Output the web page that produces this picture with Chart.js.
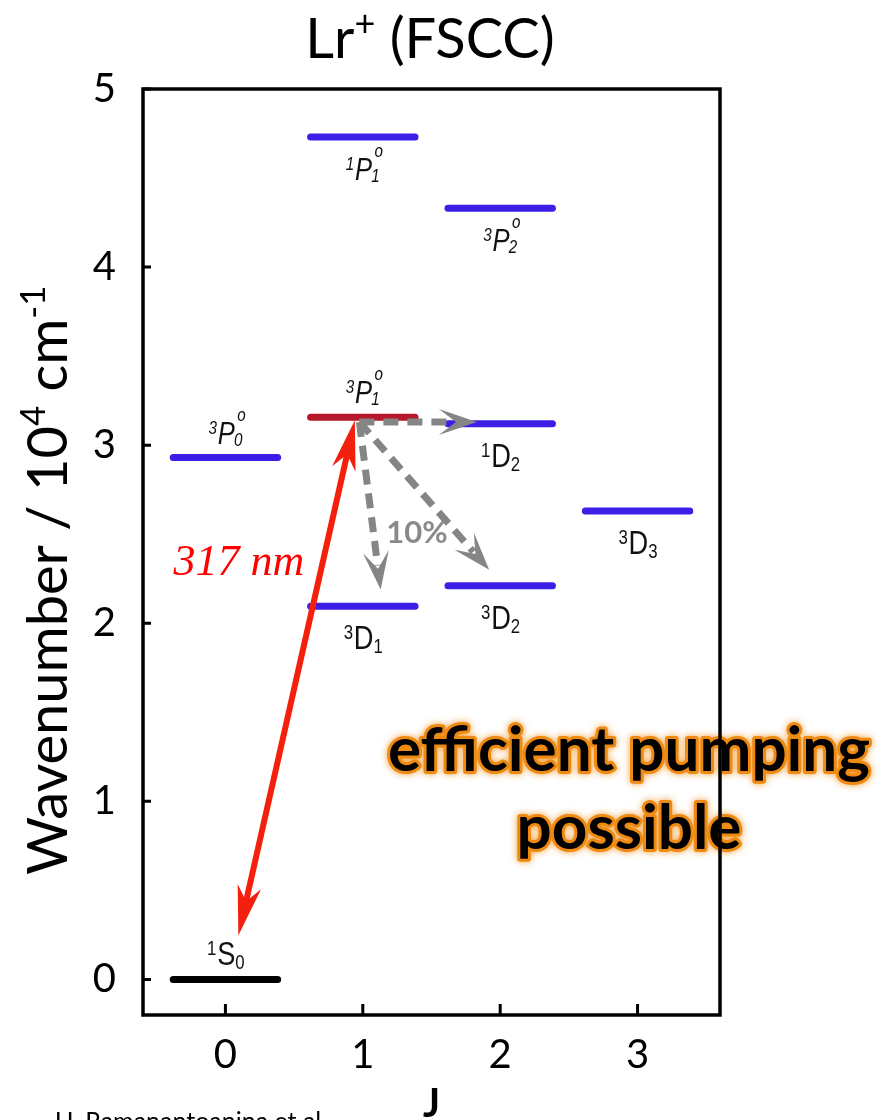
<!DOCTYPE html>
<html>
<head>
<meta charset="utf-8">
<script src="https://cdn.jsdelivr.net/npm/chart.js@4.4.1/dist/chart.umd.min.js"></script>
<style>
  html, body { margin: 0; padding: 0; background: #fff; }
  canvas { display: block; }
</style>
</head>
<body>
<canvas id="myChart" width="892" height="1120"></canvas>
<script>
// Lr+ levels (FSCC), wavenumber in 10^4 cm^-1
const levelJ      = [0, 0, 1, 1, 1, 2, 2, 2, 3];
const levelEnergy = [0, 2.93, 3.157, 4.73, 2.095, 4.33, 3.12, 2.21, 2.63];
const levelKind   = ['ground', 'odd', 'pumped', 'odd', 'even', 'odd', 'even', 'even', 'even'];
const termPre  = ['1', '3', '3', '1', '3', '3', '1', '3', '3'];
const termMain = ['S', 'P', 'P', 'P', 'D', 'P', 'D', 'D', 'D'];
const termSup  = ['', 'o', 'o', 'o', '', 'o', '', '', ''];
const termSub  = ['0', '0', '1', '1', '1', '2', '2', '2', '3'];

const xTicks = [0, 1, 2, 3];
const yTicks = [0, 1, 2, 3, 4, 5];

// 317 nm pumping arrow (J, energy) of both ends
const pumpJ = [0.094, 0.942];
const pumpE = [0.247, 3.14];
// decay arrows from 3P1
const decayFrom = [0.975, 3.13];
const decayToJ = [1.83, 1.13, 1.92];
const decayToE = [3.13, 2.19, 2.30];

const kindColor = { ground: '#000000', pumped: '#b5172b', odd: '#3b1fe6', even: '#3b1fe6' };
const TERMFONT = '"Liberation Sans", Arial, sans-serif';
const labelAbove = [true, true, true, false, false, false, false, false, false];

const datasets = levelJ.map((j, i) => ({
    label: termPre[i] + termMain[i] + termSub[i],
    data: [{x: j - 0.38, y: levelEnergy[i]}, {x: j + 0.38, y: levelEnergy[i]}],
    borderColor: kindColor[levelKind[i]],
    borderWidth: 7,
    borderCapStyle: 'round',
    pointRadius: 0,
    fill: false
}));

function head(ctx, x0, y0, x1, y1, len, half, notch, color) {
    const a = Math.atan2(y1 - y0, x1 - x0);
    ctx.save();
    ctx.translate(x1, y1);
    ctx.rotate(a);
    ctx.beginPath();
    ctx.moveTo(0, 0);
    ctx.lineTo(-len, -half);
    ctx.lineTo(-len * notch, 0);
    ctx.lineTo(-len, half);
    ctx.closePath();
    ctx.fillStyle = color;
    ctx.fill();
    ctx.restore();
}

// term symbol like 3P(o,1), drawn in a narrowed Helvetica-like face
function drawTerm(ctx, cx, base, i) {
    const italic = termMain[i] === 'P';
    const mainFont = italic ? 'italic 32px ' + TERMFONT : '34px ' + TERMFONT;
    const smallFont = italic ? 'italic 19px ' + TERMFONT : '21px ' + TERMFONT;
    ctx.save();
    ctx.translate(cx, base);
    ctx.scale(0.8, 1);
    ctx.font = smallFont;
    const wPre = ctx.measureText(termPre[i]).width;
    const wSub = ctx.measureText(termSub[i]).width;
    const wSup = ctx.measureText(termSup[i]).width;
    ctx.font = mainFont;
    const wMain = ctx.measureText(termMain[i]).width;
    const total = wPre + wMain + Math.max(wSub, wSup);
    let x = -total / 2;
    ctx.textAlign = 'left';
    ctx.textBaseline = 'alphabetic';
    ctx.fillStyle = '#111';
    ctx.font = smallFont;
    ctx.fillText(termPre[i], x, italic ? -10 : -10);
    x += wPre + 1;
    ctx.font = mainFont;
    ctx.fillText(termMain[i], x, 0);
    x += wMain + (italic ? -1 : 0);
    ctx.font = smallFont;
    ctx.fillText(termSub[i], x, italic ? 2 : 4);
    if (termSup[i]) ctx.fillText(termSup[i], x + 4, -23);
    ctx.restore();
}

const levelPlugin = {
    id: 'levelDecor',
    afterDatasetsDraw(chart) {
        const ctx = chart.ctx;
        const sx = chart.scales.x, sy = chart.scales.y;
        ctx.save();

        // term labels
        levelJ.forEach((j, i) => {
            const cx = sx.getPixelForValue(j);
            const yb = sy.getPixelForValue(levelEnergy[i]);
            drawTerm(ctx, cx, labelAbove[i] ? yb - 14 : yb + 43, i);
        });

        // grey dashed decay arrows
        const fx = sx.getPixelForValue(decayFrom[0]), fy = sy.getPixelForValue(decayFrom[1]);
        decayToJ.forEach((j, k) => {
            const tx = sx.getPixelForValue(j), ty = sy.getPixelForValue(decayToE[k]);
            const d = Math.hypot(tx - fx, ty - fy);
            const ux = (tx - fx) / d, uy = (ty - fy) / d;
            ctx.beginPath();
            ctx.setLineDash([15, 9]);
            ctx.lineWidth = 7;
            ctx.strokeStyle = '#858585';
            ctx.moveTo(fx, fy);
            ctx.lineTo(tx - ux * 24, ty - uy * 24);
            ctx.stroke();
            ctx.setLineDash([]);
            head(ctx, fx, fy, tx, ty, 38, 13, 0.55, '#858585');
        });

        // red pump arrow, both ends
        const ax = sx.getPixelForValue(pumpJ[0]), ay = sy.getPixelForValue(pumpE[0]);
        const bx = sx.getPixelForValue(pumpJ[1]), by = sy.getPixelForValue(pumpE[1]);
        const d = Math.hypot(bx - ax, by - ay);
        const ux = (bx - ax) / d, uy = (by - ay) / d;
        ctx.beginPath();
        ctx.lineWidth = 6;
        ctx.strokeStyle = '#f2200c';
        ctx.moveTo(ax + ux * 30, ay + uy * 30);
        ctx.lineTo(bx - ux * 30, by - uy * 30);
        ctx.stroke();
        head(ctx, bx, by, ax, ay, 50, 12, 0.7, '#f2200c');
        head(ctx, ax, ay, bx, by, 50, 12, 0.7, '#f2200c');

        // annotations
        ctx.textAlign = 'center';
        ctx.textBaseline = 'alphabetic';
        ctx.font = 'italic 44px "Liberation Serif", serif';
        ctx.fillStyle = '#ff0000';
        ctx.fillText('317 nm', 239, 575);
        ctx.font = 'bold 31px Lato, sans-serif';
        ctx.fillStyle = '#8a8a8a';
        ctx.fillText('10%', 417, 543);

        // glowing note
        const note = ['efficient pumping', 'possible'];
        const noteY = [771, 849];
        ctx.font = 'bold 62px Lato, sans-serif';
        ctx.lineJoin = 'round';
        ctx.shadowColor = 'rgba(240,140,20,0.85)';
        ctx.shadowBlur = 7;
        ctx.strokeStyle = '#ee8a12';
        ctx.lineWidth = 6;
        note.forEach((t, k) => ctx.strokeText(t, 629, noteY[k]));
        ctx.shadowBlur = 0;
        ctx.shadowColor = 'transparent';
        ctx.fillStyle = '#000';
        note.forEach((t, k) => ctx.fillText(t, 629, noteY[k]));
        ctx.restore();
    },
    afterDraw(chart) {
        const ctx = chart.ctx;
        const {left, right, top, bottom} = chart.chartArea;
        const sx = chart.scales.x, sy = chart.scales.y;
        ctx.save();
        ctx.strokeStyle = '#000';
        ctx.lineWidth = 3.5;
        ctx.strokeRect(left, top, right - left, bottom - top);
        ctx.lineWidth = 3;
        ctx.beginPath();
        xTicks.forEach(v => {
            const p = sx.getPixelForValue(v);
            ctx.moveTo(p, bottom);
            ctx.lineTo(p, bottom - 11);
        });
        yTicks.forEach(v => {
            const p = sy.getPixelForValue(v);
            ctx.moveTo(left, p);
            ctx.lineTo(left + 8, p);
        });
        ctx.stroke();

        // chart title
        ctx.fillStyle = '#000';
        ctx.textBaseline = 'alphabetic';
        ctx.textAlign = 'left';
        const tParts = [['Lr', 56, 0], ['+', 36, 22], [' (FSCC)', 56, 0]];
        let tw = 0;
        tParts.forEach(p => { ctx.font = p[1] + 'px Lato, sans-serif'; tw += ctx.measureText(p[0]).width; });
        let x = 430 - tw / 2;
        tParts.forEach(p => {
            ctx.font = p[1] + 'px Lato, sans-serif';
            ctx.fillText(p[0], x, 58 - p[2]);
            x += ctx.measureText(p[0]).width;
        });

        // y axis title
        ctx.save();
        ctx.translate(67, 580);
        ctx.rotate(-Math.PI / 2);
        const yParts = [['Wavenumber / 10', 56, 0], ['4', 35, 22], [' cm', 56, 0], ['-1', 35, 22]];
        let yw = 0;
        yParts.forEach(p => { ctx.font = p[1] + 'px Lato, sans-serif'; yw += ctx.measureText(p[0]).width; });
        x = -yw / 2;
        yParts.forEach(p => {
            ctx.font = p[1] + 'px Lato, sans-serif';
            ctx.fillText(p[0], x, -p[2]);
            x += ctx.measureText(p[0]).width;
        });
        ctx.restore();

        // source note, cut by the page edge
        ctx.font = '25px Lato, sans-serif';
        ctx.fillText('U. Ramanantoanina et al.', 55, 1130);
        ctx.restore();
    }
};

const options = {
    responsive: false,
    animation: false,
    devicePixelRatio: 1,
    layout: { padding: { left: 0, right: 172, top: 89, bottom: 0 } },
    plugins: { legend: { display: false }, tooltip: { enabled: false } },
    scales: {
        x: {
            type: 'linear',
            min: -0.6,
            max: 3.6,
            afterBuildTicks: s => { s.ticks = xTicks.map(v => ({value: v})); },
            afterFit: s => { s.height = 105; },
            grid: { display: false },
            border: { display: false },
            ticks: { color: '#000', font: { family: 'Lato', size: 40 }, padding: 8 },
            title: { display: true, text: 'J', color: '#000', font: { family: 'Lato', size: 40, weight: 'bold', lineHeight: 0.8 }, padding: 0 }
        },
        y: {
            type: 'linear',
            min: -0.2,
            max: 5,
            afterBuildTicks: s => { s.ticks = yTicks.map(v => ({value: v})); },
            afterFit: s => { s.width = 143; },
            grid: { display: false },
            border: { display: false },
            ticks: { color: '#000', font: { family: 'Lato', size: 40 }, padding: 19 }
        }
    }
};

new Chart(document.getElementById('myChart'), {
    type: 'line',
    data: { datasets: datasets },
    options: options,
    plugins: [levelPlugin]
});
</script>
</body>
</html>
